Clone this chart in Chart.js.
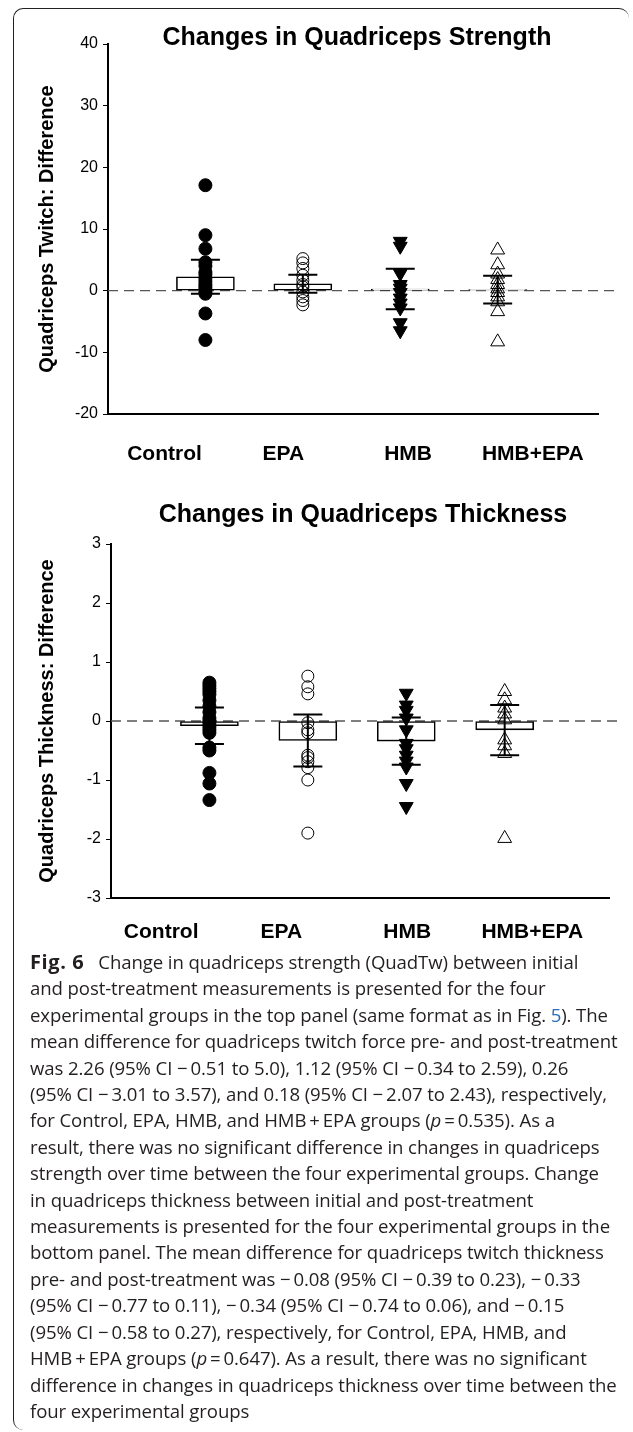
<!DOCTYPE html>
<html><head><meta charset="utf-8">
<script src="https://cdn.jsdelivr.net/npm/chart.js@4.4.1/dist/chart.umd.min.js"></script>
<style>
html,body{margin:0;padding:0;background:#fff;}
body{width:633px;height:1432px;position:relative;overflow:hidden;font-family:"Liberation Sans",Arial,sans-serif;}
#frame{position:absolute;left:13px;top:8px;width:616px;height:1422px;border-left:1.5px solid #231f20;border-top:1.5px solid #231f20;border-radius:10px 10px 0 10px;box-sizing:border-box;}
canvas{position:absolute;left:0;}
#c1{top:0;}
#c2{top:470px;}
#cap{position:absolute;left:30px;top:949px;font-family:"Open Sans",sans-serif;font-size:18.6px;line-height:26.4px;color:#231f20;white-space:nowrap;letter-spacing:-0.1px;}
#cap b{font-weight:700;font-size:20px;letter-spacing:0.6px;margin-right:14px;}
#cap .ln{color:#2a6ebb;}
</style>
</head><body>
<div id="frame"></div>
<canvas id="c1" width="633" height="480"></canvas>
<canvas id="c2" width="633" height="480"></canvas>
<div id="cap"><b>Fig.&nbsp;6</b>Change in quadriceps strength (QuadTw) between initial<br>and post-treatment measurements is presented for the four<br>experimental groups in the top panel (same format as in Fig. <span class="ln">5</span>). The<br>mean difference for quadriceps twitch force pre- and post-treatment<br>was 2.26 (95% CI −&thinsp;0.51 to 5.0), 1.12 (95% CI −&thinsp;0.34 to 2.59), 0.26<br>(95% CI −&thinsp;3.01 to 3.57), and 0.18 (95% CI −&thinsp;2.07 to 2.43), respectively,<br>for Control, EPA, HMB, and HMB&thinsp;+&thinsp;EPA groups (<i>p</i>&thinsp;=&thinsp;0.535). As a<br>result, there was no significant difference in changes in quadriceps<br>strength over time between the four experimental groups. Change<br>in quadriceps thickness between initial and post-treatment<br>measurements is presented for the four experimental groups in the<br>bottom panel. The mean difference for quadriceps twitch thickness<br>pre- and post-treatment was −&thinsp;0.08 (95% CI −&thinsp;0.39 to 0.23), −&thinsp;0.33<br>(95% CI −&thinsp;0.77 to 0.11), −&thinsp;0.34 (95% CI −&thinsp;0.74 to 0.06), and −&thinsp;0.15<br>(95% CI −&thinsp;0.58 to 0.27), respectively, for Control, EPA, HMB, and<br>HMB&thinsp;+&thinsp;EPA groups (<i>p</i>&thinsp;=&thinsp;0.647). As a result, there was no significant<br>difference in changes in quadriceps thickness over time between the<br>four experimental groups</div>
<script>
// ---------- data ----------
const groups = ['Control', 'EPA', 'HMB', 'HMB+EPA'];
const groupX = [1, 2, 3, 4];
const labelPosTop = [0.58, 1.80, 3.08, 4.36];
const labelPosBottom = [0.51, 1.73, 3.01, 4.28];

const twTicks = [-20, -10, 0, 10, 20, 30, 40];
const twMeans = [2.26, 1.12, 0.26, 0.18];
const twLo = [-0.51, -0.34, -3.01, -2.07];
const twHi = [5.0, 2.59, 3.57, 2.43];
const twControl = [17.1, 9.0, 6.8, 4.6, 4.0, 3.0, 2.6, 2.0, 1.5, 1.0, 0.6, 0.2, -0.2, -0.5, -3.7, -8.0];
const twEPA = [5.2, 4.5, 3.6, 2.5, 1.7, 1.0, 0.6, -0.2, -1.0, -1.6, -2.3];
const twHMB = [8.0, 7.2, 2.8, 1.0, 0.4, -0.3, -1.2, -2.0, -2.8, -5.2, -6.5];
const twCombo = [6.6, 4.2, 2.7, 1.8, 1.0, 0.3, -0.3, -1.0, -1.8, -3.4, -8.3];

const thTicks = [-3, -2, -1, 0, 1, 2, 3];
const thMeans = [-0.08, -0.33, -0.34, -0.15];
const thLo = [-0.39, -0.77, -0.74, -0.58];
const thHi = [0.23, 0.11, 0.06, 0.27];
const thControl = [0.65, 0.6, 0.55, 0.5, 0.45, 0.35, 0.25, 0.15, 0.05, 0.0, -0.05, -0.1, -0.15, -0.2, -0.45, -0.5, -0.88, -1.06, -1.34];
const thEPA = [0.76, 0.58, 0.46, -0.03, -0.15, -0.2, -0.58, -0.62, -0.69, -0.79, -1.0, -1.9];
const thHMB = [0.47, 0.27, 0.18, 0.05, -0.15, -0.38, -0.47, -0.58, -0.68, -0.78, -1.06, -1.45];
const thCombo = [0.5, 0.36, 0.22, 0.12, 0.02, -0.32, -0.42, -0.55, -1.99];

// ---------- helpers ----------
const FONT = '"Liberation Sans", Arial, sans-serif';
function pts(i, arr) { return arr.map(v => ({ x: groupX[i], y: v })); }

const refLine = {
  id: 'refLine',
  beforeDatasetsDraw(chart, args, opts) {
    const { ctx, chartArea, scales } = chart;
    const y0 = scales.y.getPixelForValue(0);
    ctx.save();
    ctx.strokeStyle = '#555';
    ctx.lineWidth = 1.3;
    ctx.setLineDash([10, 6]);
    ctx.beginPath();
    ctx.moveTo(chartArea.left, y0);
    ctx.lineTo(opts.endX, y0);
    ctx.stroke();
    ctx.restore();
  }
};
const errBars = {
  id: 'errBars',
  afterDatasetsDraw(chart, args, opts) {
    const { ctx, scales } = chart;
    ctx.save();
    ctx.strokeStyle = '#000';
    ctx.lineWidth = 2;
    opts.lo.forEach((lo, i) => {
      const x = scales.x.getPixelForValue(groupX[i]);
      const yl = scales.y.getPixelForValue(lo);
      const yh = scales.y.getPixelForValue(opts.hi[i]);
      ctx.beginPath();
      ctx.moveTo(x, yl); ctx.lineTo(x, yh);
      ctx.moveTo(x - 14.5, yl); ctx.lineTo(x + 14.5, yl);
      ctx.moveTo(x - 14.5, yh); ctx.lineTo(x + 14.5, yh);
      ctx.stroke();
    });
    ctx.restore();
  }
};
const mainTitle = {
  id: 'mainTitle',
  afterDraw(chart, args, opts) {
    const { ctx } = chart;
    ctx.save();
    ctx.font = 'bold 25px ' + FONT;
    ctx.fillStyle = '#000';
    ctx.textAlign = 'center';
    ctx.textBaseline = 'middle';
    ctx.fillText(opts.text, opts.cx, opts.cy);
    ctx.restore();
  }
};

function makeChart(id, cfg) {
  const datasets = [
    { type: 'bar', data: cfg.means.map((m, i) => ({ x: groupX[i], y: m })), backgroundColor: '#fff', borderColor: '#000', borderWidth: 1.6, borderSkipped: false, barThickness: 58, order: 5 },
    { type: 'scatter', data: pts(0, cfg.sets[0]), pointStyle: 'circle', radius: 6.5, backgroundColor: '#000', borderColor: '#000', borderWidth: 1, order: 1 },
    { type: 'scatter', data: pts(1, cfg.sets[1]), pointStyle: 'circle', radius: 6, backgroundColor: 'rgba(0,0,0,0)', borderColor: '#000', borderWidth: 1, order: 1 },
    { type: 'scatter', data: pts(2, cfg.sets[2]), pointStyle: 'triangle', rotation: 180, radius: 8, backgroundColor: '#000', borderColor: '#000', borderWidth: 1, order: 1 },
    { type: 'scatter', data: pts(3, cfg.sets[3]), pointStyle: 'triangle', radius: 8, backgroundColor: 'rgba(0,0,0,0)', borderColor: '#000', borderWidth: 1, order: 1 }
  ];
  return new Chart(document.getElementById(id), {
    data: { datasets },
    plugins: [refLine, errBars, mainTitle],
    options: {
      responsive: false, animation: false, devicePixelRatio: 1,
      layout: { padding: cfg.padding },
      plugins: {
        legend: { display: false }, tooltip: { enabled: false },
        refLine: { endX: 617 },
        errBars: { lo: cfg.lo, hi: cfg.hi },
        mainTitle: { text: cfg.title, cx: cfg.titleX, cy: cfg.titleY }
      },
      scales: {
        x: {
          type: 'linear', min: 0, max: cfg.xMax, offset: false,
          afterBuildTicks: s => { s.ticks = cfg.labelPos.map(v => ({ value: v })); },
          afterFit: s => { s.height = cfg.xAxisH; },
          grid: { display: false, drawTicks: false, offset: false },
          border: { display: true, color: '#000', width: 2 },
          ticks: { autoSkip: false, maxRotation: 0, padding: cfg.labelPad, color: '#000',
                   font: { family: FONT, size: 21, weight: 'bold' },
                   callback: (v, i) => groups[i] }
        },
        y: {
          type: 'linear', min: cfg.yTicks[0], max: cfg.yTicks[cfg.yTicks.length - 1],
          afterBuildTicks: s => { s.ticks = cfg.yTicks.map(v => ({ value: v })); },
          afterFit: s => { s.width = cfg.yAxisW; },
          grid: { drawOnChartArea: false, drawTicks: true, tickLength: 5, color: '#000', lineWidth: 1 },
          border: { display: true, color: '#000', width: 2 },
          ticks: { padding: 5, color: '#000', font: { family: FONT, size: 16 } },
          title: { display: true, text: cfg.yTitle, color: '#000', font: { family: FONT, size: 20, weight: 'bold' }, padding: { top: 15, bottom: 0 } }
        }
      }
    }
  });
}

makeChart('c1', {
  title: 'Changes in Quadriceps Strength', titleX: 357, titleY: 38,
  yTitle: 'Quadriceps Twitch: Difference',
  means: twMeans, lo: twLo, hi: twHi,
  sets: [twControl, twEPA, twHMB, twCombo],
  yTicks: twTicks, labelPos: labelPosTop, xMax: 5.03,
  padding: { left: 20, top: 44, right: 35, bottom: 0 },
  yAxisW: 88, xAxisH: 66, labelPad: 28
});
makeChart('c2', {
  title: 'Changes in Quadriceps Thickness', titleX: 363, titleY: 45,
  yTitle: 'Quadriceps Thickness: Difference',
  means: thMeans, lo: thLo, hi: thHi,
  sets: [thControl, thEPA, thHMB, thCombo],
  yTicks: thTicks, labelPos: labelPosBottom, xMax: 5.06,
  padding: { left: 20, top: 74, right: 24, bottom: 0 },
  yAxisW: 91, xAxisH: 52, labelPad: 22
});
</script>
</body></html>
